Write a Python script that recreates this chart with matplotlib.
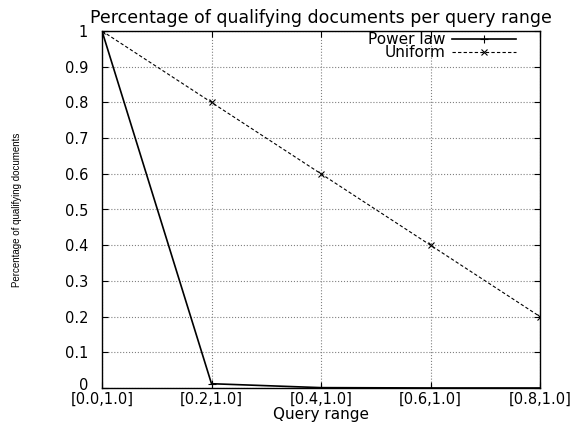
import matplotlib
matplotlib.use('Agg')
import matplotlib.pyplot as plt
from matplotlib.transforms import ScaledTranslation

ranges = ['[0.0,1.0]', '[0.2,1.0]', '[0.4,1.0]', '[0.6,1.0]', '[0.8,1.0]']
power_law = [1.0, 0.012, 0.001, 0.0001, 0.00001]
uniform = [1.0, 0.8, 0.6, 0.4, 0.2]
yticks = [0, 0.1, 0.2, 0.3, 0.4, 0.5, 0.6, 0.7, 0.8, 0.9, 1]

plt.rcParams['font.family'] = ['DejaVu Sans']

W, H = 577, 423
fig = plt.figure(figsize=(W / 100, H / 100), dpi=100)
# axes box in pixels: left 102, right 540, top 31, bottom 388
top_px, bot_px = 31, 388
ax = fig.add_axes([102 / W, 1 - bot_px / H, (540 - 102) / W, (bot_px - top_px) / H])

x = list(range(len(ranges)))
ax.plot(x, power_law, '-', color='black', lw=1.2, marker='+', ms=6, mew=0.8,
        label='Power law')
ax.plot(x, uniform, color='black', lw=0.8, ls=(0, (3, 2)), marker='x', ms=4, mew=0.8,
        label='Uniform')

ax.set_xlim(0, 4)
ax.set_ylim(0, 1)
ax.set_xticks(x)
ax.set_xticklabels(ranges)
ax.set_yticks(yticks)
ax.set_yticklabels([f'{v:g}' for v in yticks])
ax.tick_params(direction='in', top=True, right=True, length=4)
ax.tick_params(axis='x', pad=3, labelsize=10.5)
ax.tick_params(axis='y', pad=10, labelsize=10.5)
ax.grid(True, ls=':', color='gray', lw=0.8)
for s in ax.spines.values():
    s.set_linewidth(1.0)

# lift the "0" label a little so it clears the first x label
zero_lbl = ax.yaxis.get_major_ticks()[0].label1
zero_lbl.set_transform(zero_lbl.get_transform()
                       + ScaledTranslation(0, 3 / 72, fig.dpi_scale_trans))

ax.set_title('Percentage of qualifying documents per query range', fontsize=12.5, pad=6)
ax.set_xlabel('Query range', fontsize=11, va='bottom')
ax.xaxis.set_label_coords(0.5, -(422 - bot_px) / (bot_px - top_px))
ax.set_ylabel('Percentage of qualifying documents', fontsize=7,
              family=['Liberation Sans Narrow', 'Liberation Sans'])
ax.yaxis.set_label_coords(-0.183, 0.5)

ax.legend(loc='upper right', bbox_to_anchor=(516 / W, 1 - 32 / H),
          bbox_transform=fig.transFigure, frameon=False, markerfirst=False,
          fontsize=11, handlelength=4.2, borderpad=0, borderaxespad=0,
          labelspacing=-0.1, handletextpad=0.4)

fig.savefig('out.png', dpi=100)
